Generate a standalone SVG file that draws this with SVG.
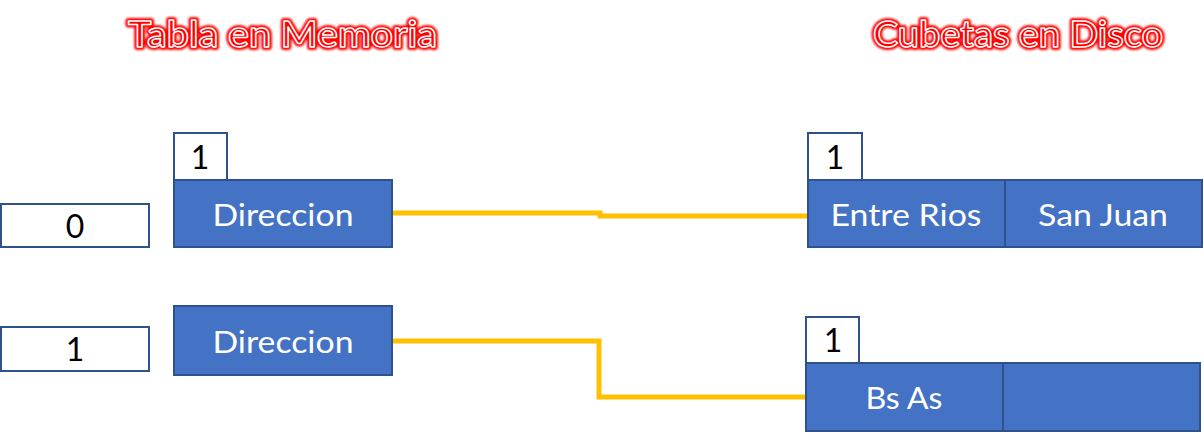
<svg xmlns="http://www.w3.org/2000/svg" width="1204" height="443" viewBox="0 0 1204 443">
<defs>
<filter id="soft" x="-10%" y="-30%" width="120%" height="160%">
<feGaussianBlur stdDeviation="0.8"/>
</filter>
<style>
.title{font-family:Lato,"Open Sans","Liberation Sans",sans-serif;font-weight:600;font-size:37px;fill:#FF0000;}
.glow{stroke:#FF0000;stroke-width:6;stroke-linejoin:round;}
.rim{stroke:#FFFFFF;stroke-width:1.5;stroke-linejoin:round;}
.blue{fill:#4472C4;stroke:#2F528F;stroke-width:2;}
.white{fill:#FFFFFF;stroke:#2F528F;stroke-width:2;}
.wt{font-family:Lato,"Open Sans","Liberation Sans",sans-serif;font-size:30px;fill:#FFFFFF;text-anchor:middle;}
.bt{font-family:Lato,"Open Sans","Liberation Sans",sans-serif;font-size:32px;fill:#000000;text-anchor:middle;}
.conn{fill:none;stroke:#FFC000;stroke-width:5;}
</style>
</defs>
<rect width="1204" height="443" fill="#FFFFFF"/>
<g id="title-memoria">
<text class="title glow" x="128" y="47" textLength="309" lengthAdjust="spacingAndGlyphs" filter="url(#soft)">Tabla en Memoria</text>
<text class="title rim" x="128" y="47" textLength="309" lengthAdjust="spacingAndGlyphs">Tabla en Memoria</text>
</g>
<g id="title-disco">
<text class="title glow" x="873" y="47" textLength="290" lengthAdjust="spacingAndGlyphs" filter="url(#soft)">Cubetas en Disco</text>
<text class="title rim" x="873" y="47" textLength="290" lengthAdjust="spacingAndGlyphs">Cubetas en Disco</text>
</g>
<g id="connectors">
<path class="conn" d="M392,213 H600 V216 H808"/>
<path class="conn" d="M392,341 H599 V397 H806"/>
</g>
<g id="idx0">
<rect class="white" x="1" y="204" width="148" height="43"/>
<text class="bt" x="75" y="238">0</text>
</g>
<g id="idx1">
<rect class="white" x="1" y="327" width="148" height="44"/>
<text class="bt" x="75" y="361">1</text>
</g>
<g id="dir0">
<rect class="white" x="174" y="133" width="53" height="47"/>
<text class="bt" x="200" y="169">1</text>
<rect class="blue" x="174" y="180" width="218" height="67"/>
<text class="wt" x="283" y="226" textLength="141" lengthAdjust="spacingAndGlyphs">Direccion</text>
</g>
<g id="dir1">
<rect class="blue" x="174" y="306" width="218" height="69"/>
<text class="wt" x="283" y="353" textLength="141" lengthAdjust="spacingAndGlyphs">Direccion</text>
</g>
<g id="bucket0">
<rect class="white" x="808" y="133" width="54" height="47"/>
<text class="bt" x="835" y="169">1</text>
<rect class="blue" x="808" y="180" width="197" height="67"/>
<rect class="blue" x="1005" y="180" width="197" height="67"/>
<text class="wt" x="906" y="226" textLength="151" lengthAdjust="spacingAndGlyphs">Entre Rios</text>
<text class="wt" x="1103" y="226" textLength="130" lengthAdjust="spacingAndGlyphs">San Juan</text>
</g>
<g id="bucket1">
<rect class="white" x="806" y="317" width="53" height="46"/>
<text class="bt" x="833" y="352">1</text>
<rect class="blue" x="806" y="363" width="197" height="68"/>
<rect class="blue" x="1003" y="363" width="197" height="68"/>
<text class="wt" x="904" y="409" textLength="77" lengthAdjust="spacingAndGlyphs">Bs As</text>
</g>
</svg>
